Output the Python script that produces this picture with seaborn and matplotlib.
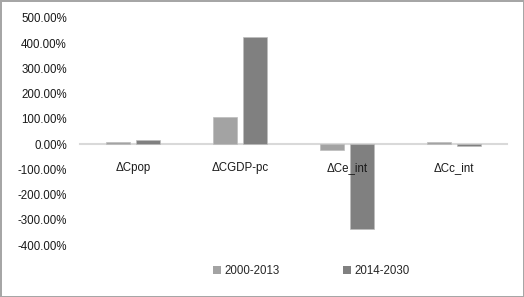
import matplotlib
matplotlib.use("Agg")
import matplotlib.pyplot as plt
import seaborn as sns
import pandas as pd
from matplotlib.patches import Patch

categories = ["ΔCpop", "ΔCGDP-pc", "ΔCe_int", "ΔCc_int"]
series_names = ["2000-2013", "2014-2030"]
values_2000_2013 = [7, 108, -22, 7]
values_2014_2030 = [17, 426, -335, -8]
ytick_values = [500, 400, 300, 200, 100, 0, -100, -200, -300, -400]
colors = ["#a3a3a3", "#808080"]

df = pd.DataFrame({
    "category": categories * 2,
    "period": [series_names[0]] * 4 + [series_names[1]] * 4,
    "value": values_2000_2013 + values_2014_2030,
})

sns.set_style("white")
plt.rcParams["font.family"] = ["Liberation Sans", "DejaVu Sans"]
plt.rcParams["font.size"] = 8

fig = plt.figure(figsize=(5.24, 2.97), dpi=100, linewidth=2, edgecolor="#a6a6a6")
ax = fig.add_axes([80 / 524, 1 - 245 / 297, 427 / 524, 227 / 297])

sns.barplot(data=df, x="category", y="value", hue="period", order=categories,
            hue_order=series_names, palette=colors, width=0.563, gap=0.2,
            errorbar=None, ax=ax, edgecolor="#bdbdbd", linewidth=0.5, legend=False)

ax.set_ylim(-400, 500)
ax.set_xlim(-0.5, 3.5)
ax.set_yticks(ytick_values)
ax.set_yticklabels([f"{v:.2f}%" for v in ytick_values])
ax.set_xlabel("")
ax.set_ylabel("")
for s in ["top", "right", "left"]:
    ax.spines[s].set_visible(False)
ax.set_axisbelow(False)
ax.xaxis.set_zorder(5)
ax.spines["bottom"].set_position(("data", 0))
ax.spines["bottom"].set_color("#d9d9d9")
ax.spines["bottom"].set_linewidth(1.5)
ax.spines["bottom"].set_zorder(0.5)
ax.tick_params(axis="x", length=0, pad=13, labelsize=8.3, colors="#1a1a1a")
ax.tick_params(axis="y", length=0, pad=9.5, labelsize=8.3, colors="#1a1a1a")
ax.grid(False)

handles = [Patch(facecolor=c, edgecolor="none") for c in colors]
fig.legend(handles, series_names, loc="center", bbox_to_anchor=(311 / 524, 1 - 271 / 297),
           ncol=2, frameon=False, fontsize=8.3, handlelength=0.7, handleheight=0.7,
           handletextpad=0.3, columnspacing=5.5)

fig.savefig("out.png", dpi=100, edgecolor=fig.get_edgecolor())
